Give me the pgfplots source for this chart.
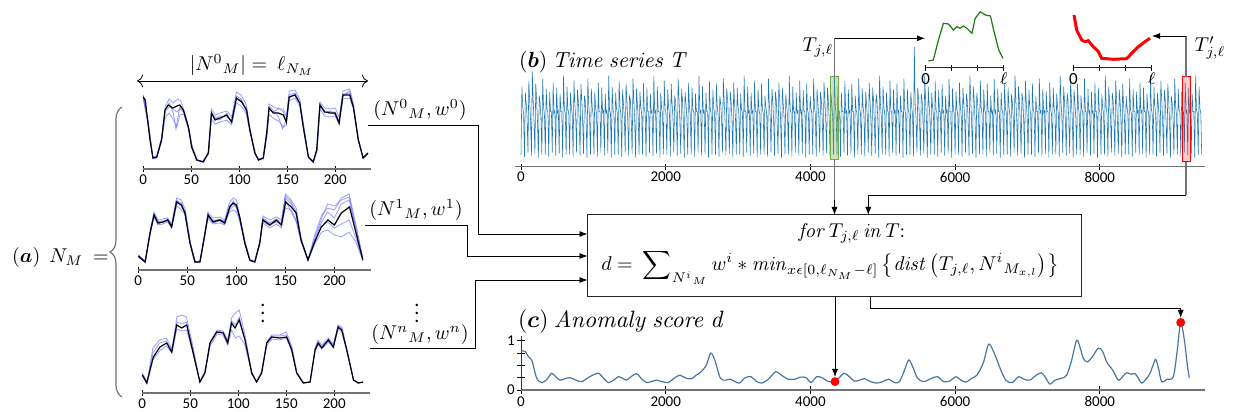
\RequirePackage{fix-cm}
\documentclass[border=0pt]{standalone}
\usepackage{amsmath}
\usepackage[no-math]{fontspec}
\setmainfont{Carlito}
\usepackage{pgfplots}
\pgfplotsset{compat=1.18}
\usetikzlibrary{arrows.meta,decorations.pathreplacing}
\definecolor{tblue}{RGB}{31,119,180}
\definecolor{sblue}{RGB}{72,118,160}
\definecolor{lblue}{RGB}{90,90,255}
\definecolor{axgray}{RGB}{115,115,115}
\definecolor{dgreen}{RGB}{30,120,20}
\definecolor{lgreen}{RGB}{112,173,71}
\pgfplotsset{
  base/.style={scale only axis, axis x line=bottom, axis y line=none,
    axis line style={-, draw=axgray, line width=0.75pt},
    xtick align=center, major tick length=3pt,
    tick style={black, line width=0.4pt},
    ticklabel style={font=\fontsize{7.5}{8}\selectfont},
    xticklabel style={inner sep=1pt},
    /pgf/number format/assume math mode=true,
    /pgf/number format/1000 sep={},
    scaled x ticks=false, clip=false, ymin=0},
  aplot/.style={base, width=113.75pt, height=45pt, xmin=0, xmax=237, ymax=90, xtick={0,50,100,150,200}},
  bl/.style={lblue, opacity=0.6, line width=0.4pt},
  bk/.style={black, line width=0.6pt},
  inset/.style={base, width=39pt, height=30pt, xmin=0, xmax=1, ymax=60,
    axis line style={-, draw=black!85, line width=0.6pt},
    xtick={0,0.3333,0.6667,1}, xticklabels={0,,,$\ell$},
    ticklabel style={font=\fontsize{8.5}{9}\selectfont}},
}
\begin{document}
\begin{tikzpicture}[x=0.5pt,y=0.5pt]
\path[use as bounding box] (0,0) rectangle (1233,412);

% ---------------- (a) plots ----------------
\begin{axis}[aplot, at={(71.65pt,121.5pt)}, anchor=south west]
\addplot[bl] coordinates {(0,74)(5,48)(10,12)(14,13)(19,31)(23,63)(27,70)(31,66)(36,70)(39,68)(42,60)(47,43)(51,22)(56,9)(62,7)(68,17)(71,60)(75,54)(80,56)(87,58)(92,52)(97,77)(102,74)(107,65)(111,42)(116,16)(120,9)(125,12)(129,39)(131,65)(136,62)(141,60)(146,60)(149,52)(152,78)(158,79)(163,70)(167,44)(172,12)(177,8)(181,21)(184,67)(189,61)(195,60)(200,61)(204,52)(208,78)(215,80)(219,65)(224,30)(229,11)(234,16)};
\addplot[bl] coordinates {(0,70)(5,44)(10,10)(14,11)(19,27)(23,52)(27,56)(31,50)(35,42)(38,54)(42,55)(47,40)(51,21)(56,9)(62,7)(68,15)(71,50)(75,45)(80,47)(87,49)(92,44)(97,66)(102,63)(107,56)(111,37)(116,15)(120,9)(125,10)(129,33)(131,55)(136,50)(141,48)(146,42)(149,44)(152,68)(158,71)(163,63)(167,40)(172,11)(177,7)(181,18)(184,60)(189,53)(195,52)(200,53)(204,44)(208,70)(215,71)(219,60)(224,28)(229,10)(234,15)};
\addplot[bl] coordinates {(0,71)(5,46)(10,11)(14,12)(19,30)(23,60)(27,66)(31,57)(34,40)(38,62)(42,58)(47,42)(51,22)(56,9)(62,8)(68,16)(71,57)(75,50)(80,53)(87,52)(92,49)(97,73)(102,70)(107,60)(111,40)(116,16)(120,10)(125,11)(129,37)(131,63)(136,58)(141,52)(145,40)(149,49)(152,74)(158,76)(163,67)(167,43)(172,12)(177,7)(181,19)(184,65)(189,58)(195,57)(200,57)(204,48)(208,75)(215,76)(219,63)(224,30)(229,11)(234,16)};
\addplot[bl] coordinates {(0,73)(5,47)(10,11)(14,12)(19,29)(23,58)(27,62)(31,60)(35,57)(38,60)(42,57)(47,41)(51,22)(56,9)(62,7)(68,16)(71,55)(75,52)(80,49)(87,56)(92,46)(97,70)(102,69)(107,58)(111,39)(116,16)(120,9)(125,11)(129,36)(131,60)(136,57)(141,61)(146,57)(149,46)(152,71)(158,75)(163,65)(167,42)(172,12)(177,7)(181,19)(184,63)(189,56)(195,58)(200,54)(204,47)(208,73)(215,78)(219,62)(224,29)(229,11)(234,16)};
\addplot[bk] coordinates {(0,72)(2,69)(5,45)(7,29)(10,11)(14,12)(19,29)(22.6,59)(26,64)(31,61)(35,63)(38,64)(41.7,59)(47,42)(50.3,22)(55.6,9)(62.5,7)(67.7,16)(71,56)(74.7,49)(80,51)(86.8,54)(92,47)(97,71)(102.5,67)(107.7,59)(111,39)(116.4,16)(120,9)(125,11)(128.5,36)(131,61)(135.4,56)(140.6,56)(145.8,54)(149,47)(152,72)(158,74)(163,66)(166.6,42)(172,12)(177,7)(180.6,19)(184,64)(189,57)(194.5,56)(199.7,56)(204,46)(208,74)(215,74)(218.8,62)(224,29)(229,11)(234,16)};
\end{axis}

\begin{axis}[aplot, at={(69.15pt,71pt)}, anchor=south west, width=116.2pt]
\addplot[bl] coordinates {(0,15)(7,9)(12,39)(16,58)(20,50)(25,51)(30,52)(34,46)(39,72)(44,70)(48,60)(53,28)(58,8)(63,9)(67,32)(71,58)(76,52)(83,53)(88,50)(93,68)(97,72)(100,70)(103,56)(109,28)(114,10)(119,8)(124,29)(127,54)(134,50)(141,53)(146,50)(150,76)(156,70)(161,62)(166,32)(173,10)(180,35)(187,55)(193,62)(200,60)(207,72)(215,76)(222,45)(229,12)};
\addplot[bl] coordinates {(0,13)(7,8)(12,35)(16,53)(20,45)(25,46)(30,48)(34,42)(39,64)(44,60)(48,55)(53,26)(58,8)(63,8)(67,29)(71,52)(76,46)(83,47)(88,45)(93,58)(97,60)(100,58)(103,50)(109,26)(114,9)(119,8)(124,26)(127,47)(134,42)(141,46)(146,42)(150,62)(156,60)(161,50)(166,28)(173,10)(180,26)(187,38)(193,40)(200,35)(207,33)(215,38)(222,28)(229,9)};
\addplot[bl] coordinates {(0,14)(7,8)(12,38)(16,56)(20,49)(25,47)(30,51)(34,44)(39,70)(44,63)(48,58)(53,27)(58,9)(63,8)(67,31)(71,56)(76,49)(83,51)(88,48)(93,65)(97,66)(100,62)(103,54)(109,27)(114,10)(119,9)(124,28)(127,52)(134,47)(141,51)(146,47)(150,72)(156,66)(161,55)(166,30)(173,10)(180,30)(187,48)(193,58)(200,52)(207,66)(215,70)(222,40)(229,11)};
\addplot[bl] coordinates {(0,14)(7,8)(12,36)(16,54)(20,48)(25,49)(30,49)(34,43)(39,66)(44,66)(48,56)(53,27)(58,8)(63,8)(67,30)(71,54)(76,47)(83,49)(88,46)(93,60)(97,64)(100,66)(103,52)(109,27)(114,10)(119,8)(124,27)(127,49)(134,44)(141,49)(146,44)(150,70)(156,58)(161,48)(166,29)(173,10)(180,28)(187,44)(193,48)(200,42)(207,46)(215,50)(222,32)(229,10)};
\addplot[bl] coordinates {(0,15)(7,9)(12,37)(16,55)(20,46)(25,48)(30,50)(34,45)(39,69)(44,67)(48,57)(53,27)(58,8)(63,9)(67,30)(71,55)(76,50)(83,50)(88,49)(93,62)(97,69)(100,64)(103,53)(109,27)(114,10)(119,8)(124,27)(127,51)(134,46)(141,48)(146,46)(150,74)(156,68)(161,58)(166,31)(173,10)(180,32)(187,52)(193,66)(200,64)(207,70)(215,73)(222,42)(229,11)};
\addplot[bk] coordinates {(0,14)(2,12)(7,8)(12,37)(16,55)(20,47)(25,48)(30,50)(34,43)(39,68)(44,65)(47.5,57)(52.6,27)(57.7,8)(62.8,8)(66.8,30)(71.2,55)(76.3,48)(83,50)(88.2,47)(93.3,63)(96.6,67)(100,65)(103.4,53)(108.5,27)(113.6,10)(118.7,8)(123.8,27)(127,50)(134,45)(140.8,50)(145.9,45)(150.3,68)(156,63)(161,57)(166,30)(173,10)(179.8,28)(186.6,43)(193.3,50)(200,45)(207,57)(215.4,63)(222,37)(229,10)};
\end{axis}

\begin{axis}[aplot, at={(71.15pt,9.5pt)}, anchor=south west]
\addplot[bl] coordinates {(0,20)(5,11)(11,45)(18,53)(25,55)(31,44)(36,76)(41,78)(46,76)(52,50)(60,12)(65,21)(71,52)(78,63)(84,62)(89,53)(93,75)(97,80)(101,83)(107,58)(114,21)(119,11)(124,21)(130,52)(135,58)(143,58)(150,61)(156,46)(161,21)(168,10)(175,11)(180,45)(183,53)(187,48)(194,55)(199,49)(204,68)(208,66)(213,45)(220,13)(225,10)(230,11)};
\addplot[bl] coordinates {(0,19)(5,10)(11,33)(18,42)(25,47)(31,40)(36,64)(41,62)(46,63)(52,44)(60,11)(65,20)(71,48)(78,59)(84,58)(89,48)(93,63)(97,55)(101,57)(107,48)(114,19)(119,11)(124,20)(130,48)(135,54)(143,53)(150,55)(156,42)(161,20)(168,10)(175,11)(180,42)(183,48)(187,44)(194,51)(199,45)(204,64)(208,61)(213,42)(220,13)(225,10)(230,11)};
\addplot[bl] coordinates {(0,17)(5,10)(11,40)(18,50)(25,52)(31,42)(36,71)(41,69)(46,71)(52,47)(60,11)(65,20)(71,51)(78,62)(84,61)(89,51)(93,72)(97,68)(101,76)(107,54)(114,20)(119,11)(124,20)(130,51)(135,57)(143,57)(150,58)(156,44)(161,20)(168,10)(175,11)(180,44)(183,51)(187,46)(194,54)(199,47)(204,67)(208,64)(213,44)(220,13)(225,10)(230,11)};
\addplot[bk] coordinates {(0,18)(4.6,10)(11.5,36)(18.4,46)(25.4,50)(30.6,41)(35.8,68)(41,65)(46.3,68)(51.5,46)(60,11)(65.3,20)(70.5,50)(77.5,61)(84.4,60)(89,50)(93,70)(96.6,65)(101,73)(107,53)(114,20)(119,11)(124.4,20)(129.6,50)(134.8,56)(143.4,55)(150.4,56)(155.6,43)(160.8,20)(167.7,10)(174.7,11)(180,43)(183.3,50)(186.9,45)(193.8,53)(199,46)(204,66)(207.7,63)(213,43)(220,13)(225,10)(230,11)};
\end{axis}

% ---------------- (b) time series ----------------
\begin{axis}[base, at={(257.5pt,122.65pt)}, anchor=south west, width=345pt, height=50pt,
  xmin=-83, xmax=9454, ymax=100, xtick={0,2000,4000,6000,8000}]
\addplot[tblue, line width=0.28pt] table[row sep=\\, x expr=\coordindex*12, y index=0] {
y\\
12\\80\\60\\52\\10\\74\\63\\49\\14\\86\\66\\46\\11\\95\\67\\45\\13\\83\\66\\46\\9\\71\\63\\49\\12\\88\\60\\52\\12\\78\\57\\54\\10\\75\\55\\55\\14\\84\\54\\56\\11\\79\\54\\56\\13\\73\\55\\55\\9\\91\\57\\53\\12\\80\\58\\53\\
12\\74\\60\\52\\10\\86\\63\\49\\14\\77\\66\\46\\11\\83\\67\\45\\13\\71\\66\\46\\9\\88\\63\\49\\12\\78\\60\\52\\12\\75\\57\\54\\10\\84\\55\\55\\14\\79\\54\\56\\11\\73\\54\\56\\13\\91\\55\\55\\9\\80\\57\\53\\12\\74\\58\\53\\
12\\86\\60\\52\\10\\77\\63\\49\\14\\83\\66\\46\\11\\71\\67\\45\\13\\88\\66\\46\\9\\78\\63\\49\\12\\75\\60\\52\\12\\84\\57\\54\\10\\79\\55\\55\\14\\73\\54\\56\\11\\91\\54\\56\\13\\80\\55\\55\\9\\74\\57\\53\\12\\86\\58\\53\\
12\\77\\60\\52\\10\\83\\63\\49\\14\\71\\66\\46\\11\\88\\67\\45\\13\\78\\66\\46\\9\\75\\63\\49\\12\\84\\60\\52\\12\\79\\57\\54\\10\\73\\55\\55\\14\\91\\54\\56\\11\\80\\54\\56\\13\\74\\55\\55\\9\\86\\57\\53\\12\\77\\58\\53\\
12\\83\\60\\52\\10\\71\\63\\49\\14\\88\\66\\46\\11\\78\\67\\45\\13\\75\\66\\46\\9\\84\\63\\49\\12\\79\\60\\52\\12\\73\\57\\54\\10\\91\\55\\55\\14\\80\\54\\56\\11\\74\\54\\56\\13\\86\\55\\55\\9\\77\\57\\53\\12\\83\\58\\53\\
12\\71\\60\\52\\10\\88\\63\\49\\14\\78\\66\\46\\11\\75\\67\\45\\13\\84\\66\\46\\9\\79\\63\\49\\12\\73\\60\\52\\12\\91\\57\\54\\10\\80\\55\\55\\14\\74\\54\\56\\11\\86\\54\\56\\13\\77\\55\\55\\9\\83\\57\\53\\12\\71\\58\\53\\
12\\88\\60\\52\\10\\78\\63\\49\\14\\75\\66\\46\\11\\84\\67\\45\\13\\79\\66\\46\\9\\73\\63\\49\\12\\91\\60\\52\\12\\80\\57\\54\\10\\74\\55\\55\\14\\86\\54\\56\\11\\77\\54\\56\\13\\83\\55\\55\\9\\71\\57\\53\\12\\88\\58\\53\\
12\\78\\60\\52\\10\\75\\63\\49\\14\\84\\66\\46\\11\\79\\67\\45\\13\\73\\66\\46\\9\\91\\63\\49\\12\\80\\60\\52\\12\\74\\57\\54\\10\\86\\55\\55\\14\\77\\54\\56\\11\\83\\54\\56\\13\\71\\55\\55\\9\\88\\57\\53\\12\\78\\58\\53\\
12\\75\\60\\52\\10\\120\\63\\49\\14\\79\\66\\46\\11\\73\\67\\45\\13\\91\\66\\46\\9\\80\\63\\49\\12\\74\\60\\52\\12\\86\\57\\54\\10\\77\\55\\55\\14\\83\\54\\56\\11\\71\\54\\56\\13\\88\\55\\55\\9\\78\\57\\53\\12\\75\\58\\53\\
12\\84\\60\\52\\10\\79\\63\\49\\14\\73\\66\\46\\11\\91\\67\\45\\13\\80\\66\\46\\9\\74\\63\\49\\12\\86\\60\\52\\12\\77\\57\\54\\10\\83\\55\\55\\14\\71\\54\\56\\11\\88\\54\\56\\13\\78\\55\\55\\9\\75\\57\\53\\12\\84\\58\\53\\
12\\79\\60\\52\\10\\73\\63\\49\\14\\91\\66\\46\\11\\80\\67\\45\\13\\74\\66\\46\\9\\86\\63\\49\\12\\77\\60\\52\\12\\83\\57\\54\\10\\71\\55\\55\\14\\88\\54\\56\\11\\78\\54\\56\\13\\75\\55\\55\\9\\84\\57\\53\\12\\79\\58\\53\\
12\\73\\60\\52\\10\\91\\63\\49\\14\\80\\66\\46\\11\\74\\67\\45\\13\\86\\66\\46\\9\\77\\63\\49\\12\\83\\60\\52\\12\\71\\57\\54\\10\\88\\55\\55\\14\\78\\54\\56\\11\\75\\54\\56\\13\\84\\55\\55\\9\\79\\57\\53\\12\\73\\58\\53\\
12\\91\\60\\52\\10\\80\\63\\49\\14\\74\\66\\46\\11\\86\\67\\45\\13\\77\\66\\46\\9\\83\\63\\49\\12\\71\\60\\52\\12\\88\\57\\54\\10\\78\\55\\55\\14\\75\\54\\56\\11\\84\\54\\56\\13\\79\\55\\55\\9\\73\\57\\53\\12\\91\\58\\53\\
12\\80\\60\\52\\10\\74\\63\\49\\14\\86\\66\\46\\11\\77\\67\\45\\13\\83\\66\\46\\9\\71\\63\\49\\12\\88\\60\\52\\12\\78\\57\\54\\10\\75\\55\\55\\14\\84\\54\\56\\11\\79\\54\\56\\13\\73\\55\\55\\9\\91\\57\\53\\12\\80\\58\\53\\
12\\
};
\end{axis}

% ---------------- insets ----------------
\begin{axis}[inset, at={(462.85pt,172.15pt)}, anchor=south west]
\addplot[dgreen, line width=0.6pt] coordinates {(0.034,6.7)(0.098,7.7)(0.163,27.7)(0.227,44.4)(0.29,43.7)(0.356,37.7)(0.4,41)(0.44,39.4)(0.485,41.7)(0.528,39.4)(0.593,34.4)(0.635,49.4)(0.7,56)(0.764,52.7)(0.83,51.7)(0.871,37.7)(0.936,17.7)(0.99,9.4)};
\end{axis}
\begin{axis}[inset, at={(536.65pt,172.15pt)}, anchor=south west, width=39.2pt]
\addplot[red, line width=1.5pt] coordinates {(0.009,52.7)(0.043,37.7)(0.107,27.7)(0.149,26)(0.19,27)(0.255,21)(0.32,16)(0.362,9.4)(0.51,8.4)(0.68,9)(0.745,14.4)(0.83,21)(0.914,26)(0.978,29.4)};
\end{axis}

% ---------------- (c) anomaly score ----------------
\begin{axis}[scale only axis, at={(260.5pt,11pt)}, anchor=south west, width=342pt, height=27.1pt,
  xmin=0, xmax=9454, ymin=0, ymax=1.1, clip=false,
  axis x line=bottom, axis y line=left,
  x axis line style={-, draw=axgray, line width=0.75pt},
  y axis line style={-, draw=black!80, line width=0.5pt},
  xtick align=center, ytick align=center, major tick length=4pt,
  tick style={black, line width=0.4pt},
  ticklabel style={font=\fontsize{7.5}{8}\selectfont},
  xticklabel style={inner sep=1pt}, yticklabel style={inner sep=1pt},
  /pgf/number format/assume math mode=true,
  /pgf/number format/1000 sep={}, scaled x ticks=false,
  xtick={0,2000,4000,6000,8000}, ytick={0,0.25,0.5,0.75,1}, yticklabels={0,,,,1}]
\addplot[sblue, line width=0.6pt, smooth] coordinates {(0,0.80)(60,0.78)(100,0.68)(150,0.60)(217,0.24)(290,0.15)(360,0.22)(424,0.34)(480,0.27)(539,0.20)(610,0.23)(677,0.25)(760,0.20)(839,0.17)(950,0.27)(1069,0.34)(1140,0.24)(1207,0.15)(1280,0.20)(1345,0.27)(1400,0.24)(1460,0.20)(1530,0.28)(1599,0.33)(1670,0.22)(1737,0.15)(1800,0.17)(1875,0.20)(1950,0.17)(2036,0.15)(2100,0.22)(2152,0.27)(2200,0.30)(2280,0.24)(2357,0.23)(2420,0.30)(2490,0.37)(2560,0.50)(2623,0.75)(2680,0.60)(2756,0.24)(2830,0.20)(2890,0.22)(2960,0.17)(3020,0.14)(3100,0.25)(3180,0.27)(3250,0.18)(3330,0.14)(3420,0.22)(3520,0.37)(3600,0.30)(3690,0.22)(3786,0.22)(3860,0.26)(3940,0.25)(4010,0.15)(4085,0.27)(4160,0.25)(4250,0.17)(4340,0.17)(4400,0.25)(4463,0.34)(4530,0.28)(4610,0.18)(4680,0.20)(4749,0.23)(4830,0.17)(4920,0.14)(5000,0.17)(5082,0.22)(5160,0.15)(5230,0.17)(5300,0.40)(5360,0.61)(5420,0.45)(5480,0.24)(5560,0.17)(5620,0.20)(5680,0.24)(5760,0.27)(5840,0.17)(5920,0.18)(6012,0.27)(6080,0.20)(6150,0.16)(6230,0.24)(6300,0.30)(6390,0.55)(6464,0.93)(6540,0.75)(6620,0.45)(6700,0.20)(6790,0.15)(6876,0.27)(6950,0.22)(7035,0.20)(7120,0.30)(7196,0.35)(7250,0.25)(7312,0.12)(7380,0.20)(7473,0.24)(7542,0.30)(7610,0.60)(7680,1.01)(7730,0.85)(7772,0.64)(7830,0.57)(7900,0.68)(7980,0.85)(8040,0.78)(8095,0.57)(8180,0.40)(8256,0.20)(8320,0.28)(8372,0.35)(8430,0.32)(8487,0.33)(8540,0.22)(8579,0.14)(8640,0.22)(8694,0.34)(8735,0.50)(8772,0.62)(8810,0.45)(8855,0.17)(8930,0.22)(9016,0.27)(9070,0.80)(9118,1.37)(9170,1.0)(9210,0.50)(9237,0.25)};
\addplot[only marks, mark=*, mark size=2pt, red] coordinates {(4340,0.17)(9118,1.37)};
\end{axis}

% ---------------- annotations ----------------
\begin{scope}[font=\fontsize{10}{12}\selectfont]
\node at (252,412-65) {$|N^0{}_M| =\ \ell_{N_M}$};
\draw[{To[length=3pt]}-{To[length=3pt]}, line width=0.4pt] (137,412-81) -- (368,412-81);
\draw[decorate, decoration={brace, amplitude=6pt}, axgray, line width=0.6pt] (122,412-397) -- (122,412-107);
\node[anchor=west] at (5,412-258) {$(\boldsymbol{a})\ \ N_M\ =$};

\node at (420,412-110) {$(N^0{}_M, w^0)$};
\node at (416,412-210) {$(N^1{}_M, w^1)$};
\node at (420,412-335) {$(N^n{}_M, w^n)$};
\node[inner sep=0pt] at (263,412-307) {$\vdots$};
\node[inner sep=0pt] at (417,412-307) {$\vdots$};

\draw[line width=0.4pt, -{Latex[length=4pt,width=3pt]}] (368,412-125) -- (478,412-125) -- (478,412-234) -- (587.5,412-234);
\draw[line width=0.4pt, -{Latex[length=4pt,width=3pt]}] (365,412-225) -- (467,412-225) -- (467,412-256) -- (587.5,412-256);
\draw[line width=0.4pt, -{Latex[length=4pt,width=3pt]}] (370,412-348) -- (475,412-348) -- (475,412-280) -- (587.5,412-280);

\draw[line width=0.5pt, black!85] (587.5,412-215) rectangle (1081.5,412-297);
\node at (852,412-233) {$\mathit{for}\,T_{j,\ell}\,\mathit{in}\,T{:}$};
\node at (830,412-267) {$d =\ \displaystyle\sum\nolimits_{N^i{}_M} w^i * \mathit{min}_{x\epsilon[0,\ell_{N_M}-\ell]}\left\{\mathit{dist}\left(T_{j,\ell}, N^i{}_{M_{x,l}}\right)\right\}$};

\draw[lgreen, fill=lgreen, fill opacity=0.35, line width=0.5pt] (830.7,412-77) rectangle (838.3,412-160);
\draw[red, fill=red, fill opacity=0.2, line width=0.5pt] (1182.3,412-77) rectangle (1190,412-162);

\draw[axgray, line width=0.7pt] (834.5,412-77) -- (834.5,412-38.3);
\draw[line width=0.4pt, -{Latex[length=4pt,width=3pt]}] (834.5,412-38.3) -- (925,412-38.3);
\draw[axgray, line width=0.7pt] (1186,412-77) -- (1186,412-36);
\draw[line width=0.4pt, -{Latex[length=4pt,width=3pt]}] (1186,412-36) -- (1152,412-36);
\node at (818,412-48) {$T_{j,\ell}$};
\node at (1210,412-48) {$T'_{j,\ell}$};

\draw[axgray, line width=0.7pt] (834.5,412-160) -- (834.5,412-200);
\draw[line width=0.4pt, -{Latex[length=4pt,width=3pt]}] (834.5,412-200) -- (834.5,412-215);
\draw[axgray, line width=0.7pt] (1186,412-162) -- (1186,412-195);
\draw[line width=0.4pt, -{Latex[length=4pt,width=3pt]}] (1186,412-195) -- (868.3,412-195) -- (868.3,412-215);
\draw[line width=0.4pt, -{Latex[length=4pt,width=3pt]}] (835,412-297) -- (835,412-377);
\draw[line width=0.4pt, -{Latex[length=4pt,width=3pt]}] (870.7,412-297) -- (870.7,412-308) -- (1180.7,412-308) -- (1180.7,412-318);

\node[anchor=west, font=\fontsize{10.9}{12}\selectfont] at (512,412-62) {$(\boldsymbol{b})\ \mathit{Time\ series\ T}$};
\node[anchor=west, font=\fontsize{11.8}{13}\selectfont] at (511,412-322) {$(\boldsymbol{c})\ \mathit{Anomaly\ score\ d}$};
\end{scope}
\end{tikzpicture}
\end{document}
